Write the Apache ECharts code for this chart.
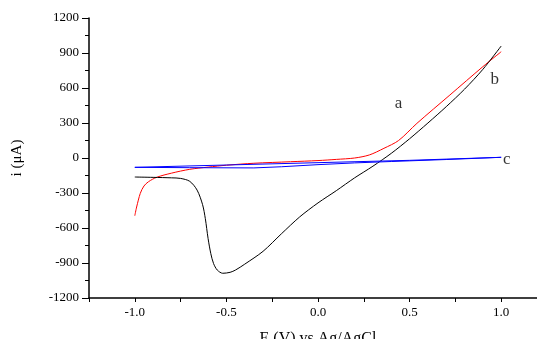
<!DOCTYPE html>
<html>
<head>
<meta charset="utf-8">
<script src="https://cdn.jsdelivr.net/npm/echarts@6/dist/echarts.min.js"></script>
<style>
  html, body { margin: 0; padding: 0; background: #fff; }
  #main { width: 537px; height: 339px; }
</style>
</head>
<body>
<div id="main"></div>
<script type="text/javascript">
    // curve a (red)
    var aE = [-1.0, -0.99, -0.97, -0.95, -0.925, -0.88, -0.8, -0.7, -0.6, -0.5, -0.35, -0.15, 0.0, 0.1, 0.2, 0.28, 0.36, 0.44, 0.54, 0.72, 0.9, 1.0];
    var aI = [-495, -420, -303, -240, -203, -165, -130, -97, -78, -62, -45, -32, -22, -12, 0, 26, 83, 150, 297, 540, 783, 911];
    // curve b (black)
    var bE = [-1.0, -0.9, -0.8, -0.75, -0.7, -0.66, -0.63, -0.615, -0.6, -0.585, -0.57, -0.55, -0.52, -0.48, -0.45, -0.4, -0.3, -0.2, -0.1, 0.0, 0.1, 0.2, 0.3, 0.4, 0.5, 0.6, 0.7, 0.8, 0.9, 1.0];
    var bI = [-163, -166, -170, -175, -200, -275, -400, -520, -690, -820, -905, -960, -988, -980, -960, -910, -800, -650, -505, -385, -280, -170, -70, 40, 165, 300, 440, 590, 760, 960];
    // curve c (blue), forward then reverse scan
    var cE = [-1.0, -0.5, 0.0, 0.5, 1.0, 0.7, 0.4, 0.2, 0.0, -0.2, -0.35, -0.7, -1.0];
    var cI = [-80, -60, -40, -20, 6, -13, -30, -42, -57, -75, -85, -83, -80];
    // curve labels
    var labelText = ['a', 'b', 'c'];
    var labelE = [0.44, 0.965, 1.03];
    var labelI = [463, 669, -17];

    var xTicks = [-1.0, -0.5, 0.0, 0.5, 1.0];
    var yTicks = [-1200, -900, -600, -300, 0, 300, 600, 900, 1200];

    function pairs(xs, ys){
        var out = [];
        for(var i = 0; i < xs.length; i++){
            out.push([xs[i], ys[i]]);
        }
        return out;
    }

    var labelData = [];
    for(var k = 0; k < labelText.length; k++){
        labelData.push({value: [labelE[k], labelI[k]], name: labelText[k]});
    }

    var myChart = echarts.init(document.getElementById('main'));
    var serif = 'Liberation Serif';
    var myOption = {
        animation: false,
        grid: { left: 89, top: 18, bottom: 41, right: -10, outerBoundsMode: 'none', containLabel: false },
        xAxis: {
            type: 'value',
            min: -1.25,
            max: 1.25,
            interval: 0.25,
            name: 'E (V) vs Ag/AgCl',
            nameLocation: 'middle',
            nameGap: 33,
            nameTextStyle: { fontFamily: serif, fontSize: 16, color: '#000' },
            axisLine: { onZero: false, lineStyle: { color: '#000', width: 1.5 } },
            axisTick: { inside: false, length: 4, lineStyle: { color: '#000' } },
            axisLabel: {
                fontFamily: serif, fontSize: 13, color: '#000', margin: 8,
                formatter: function(v){
                    for(var i = 0; i < xTicks.length; i++){
                        if(Math.abs(v - xTicks[i]) < 1e-6) return v.toFixed(1);
                    }
                    return '';
                }
            },
            splitLine: { show: false }
        },
        yAxis: {
            type: 'value',
            min: -1200,
            max: 1200,
            interval: 300,
            name: 'i (\u03bcA)',
            nameLocation: 'middle',
            nameGap: 64,
            nameTextStyle: { fontFamily: serif, fontSize: 15, color: '#000' },
            axisLine: { show: true, onZero: false, lineStyle: { color: '#000', width: 1.5 } },
            axisTick: { inside: false, length: 7, lineStyle: { color: '#000' } },
            minorTick: { show: true, splitNumber: 2, length: 4, lineStyle: { color: '#000' } },
            axisLabel: {
                fontFamily: serif, fontSize: 13, color: '#000', margin: 10,
                formatter: function(v){
                    return yTicks.indexOf(v) >= 0 ? String(v) : '';
                }
            },
            splitLine: { show: false }
        },
        series: [
            {
                name: 'a', type: 'line', data: pairs(aE, aI), smooth: 0.3,
                symbol: 'none', lineStyle: { color: '#ff0000', width: 1 }
            },
            {
                name: 'b', type: 'line', data: pairs(bE, bI), smooth: 0.3,
                symbol: 'none', lineStyle: { color: '#000000', width: 1 }
            },
            {
                name: 'c', type: 'line', data: pairs(cE, cI), smooth: false,
                symbol: 'none', lineStyle: { color: '#0000ff', width: 1 }
            },
            {
                type: 'scatter', data: labelData, symbolSize: 0,
                label: {
                    show: true, position: 'inside', formatter: '{b}',
                    fontFamily: serif, fontSize: 17, color: '#000'
                }
            }
        ]
    };
    myChart.setOption(myOption);
</script>
</body>
</html>
